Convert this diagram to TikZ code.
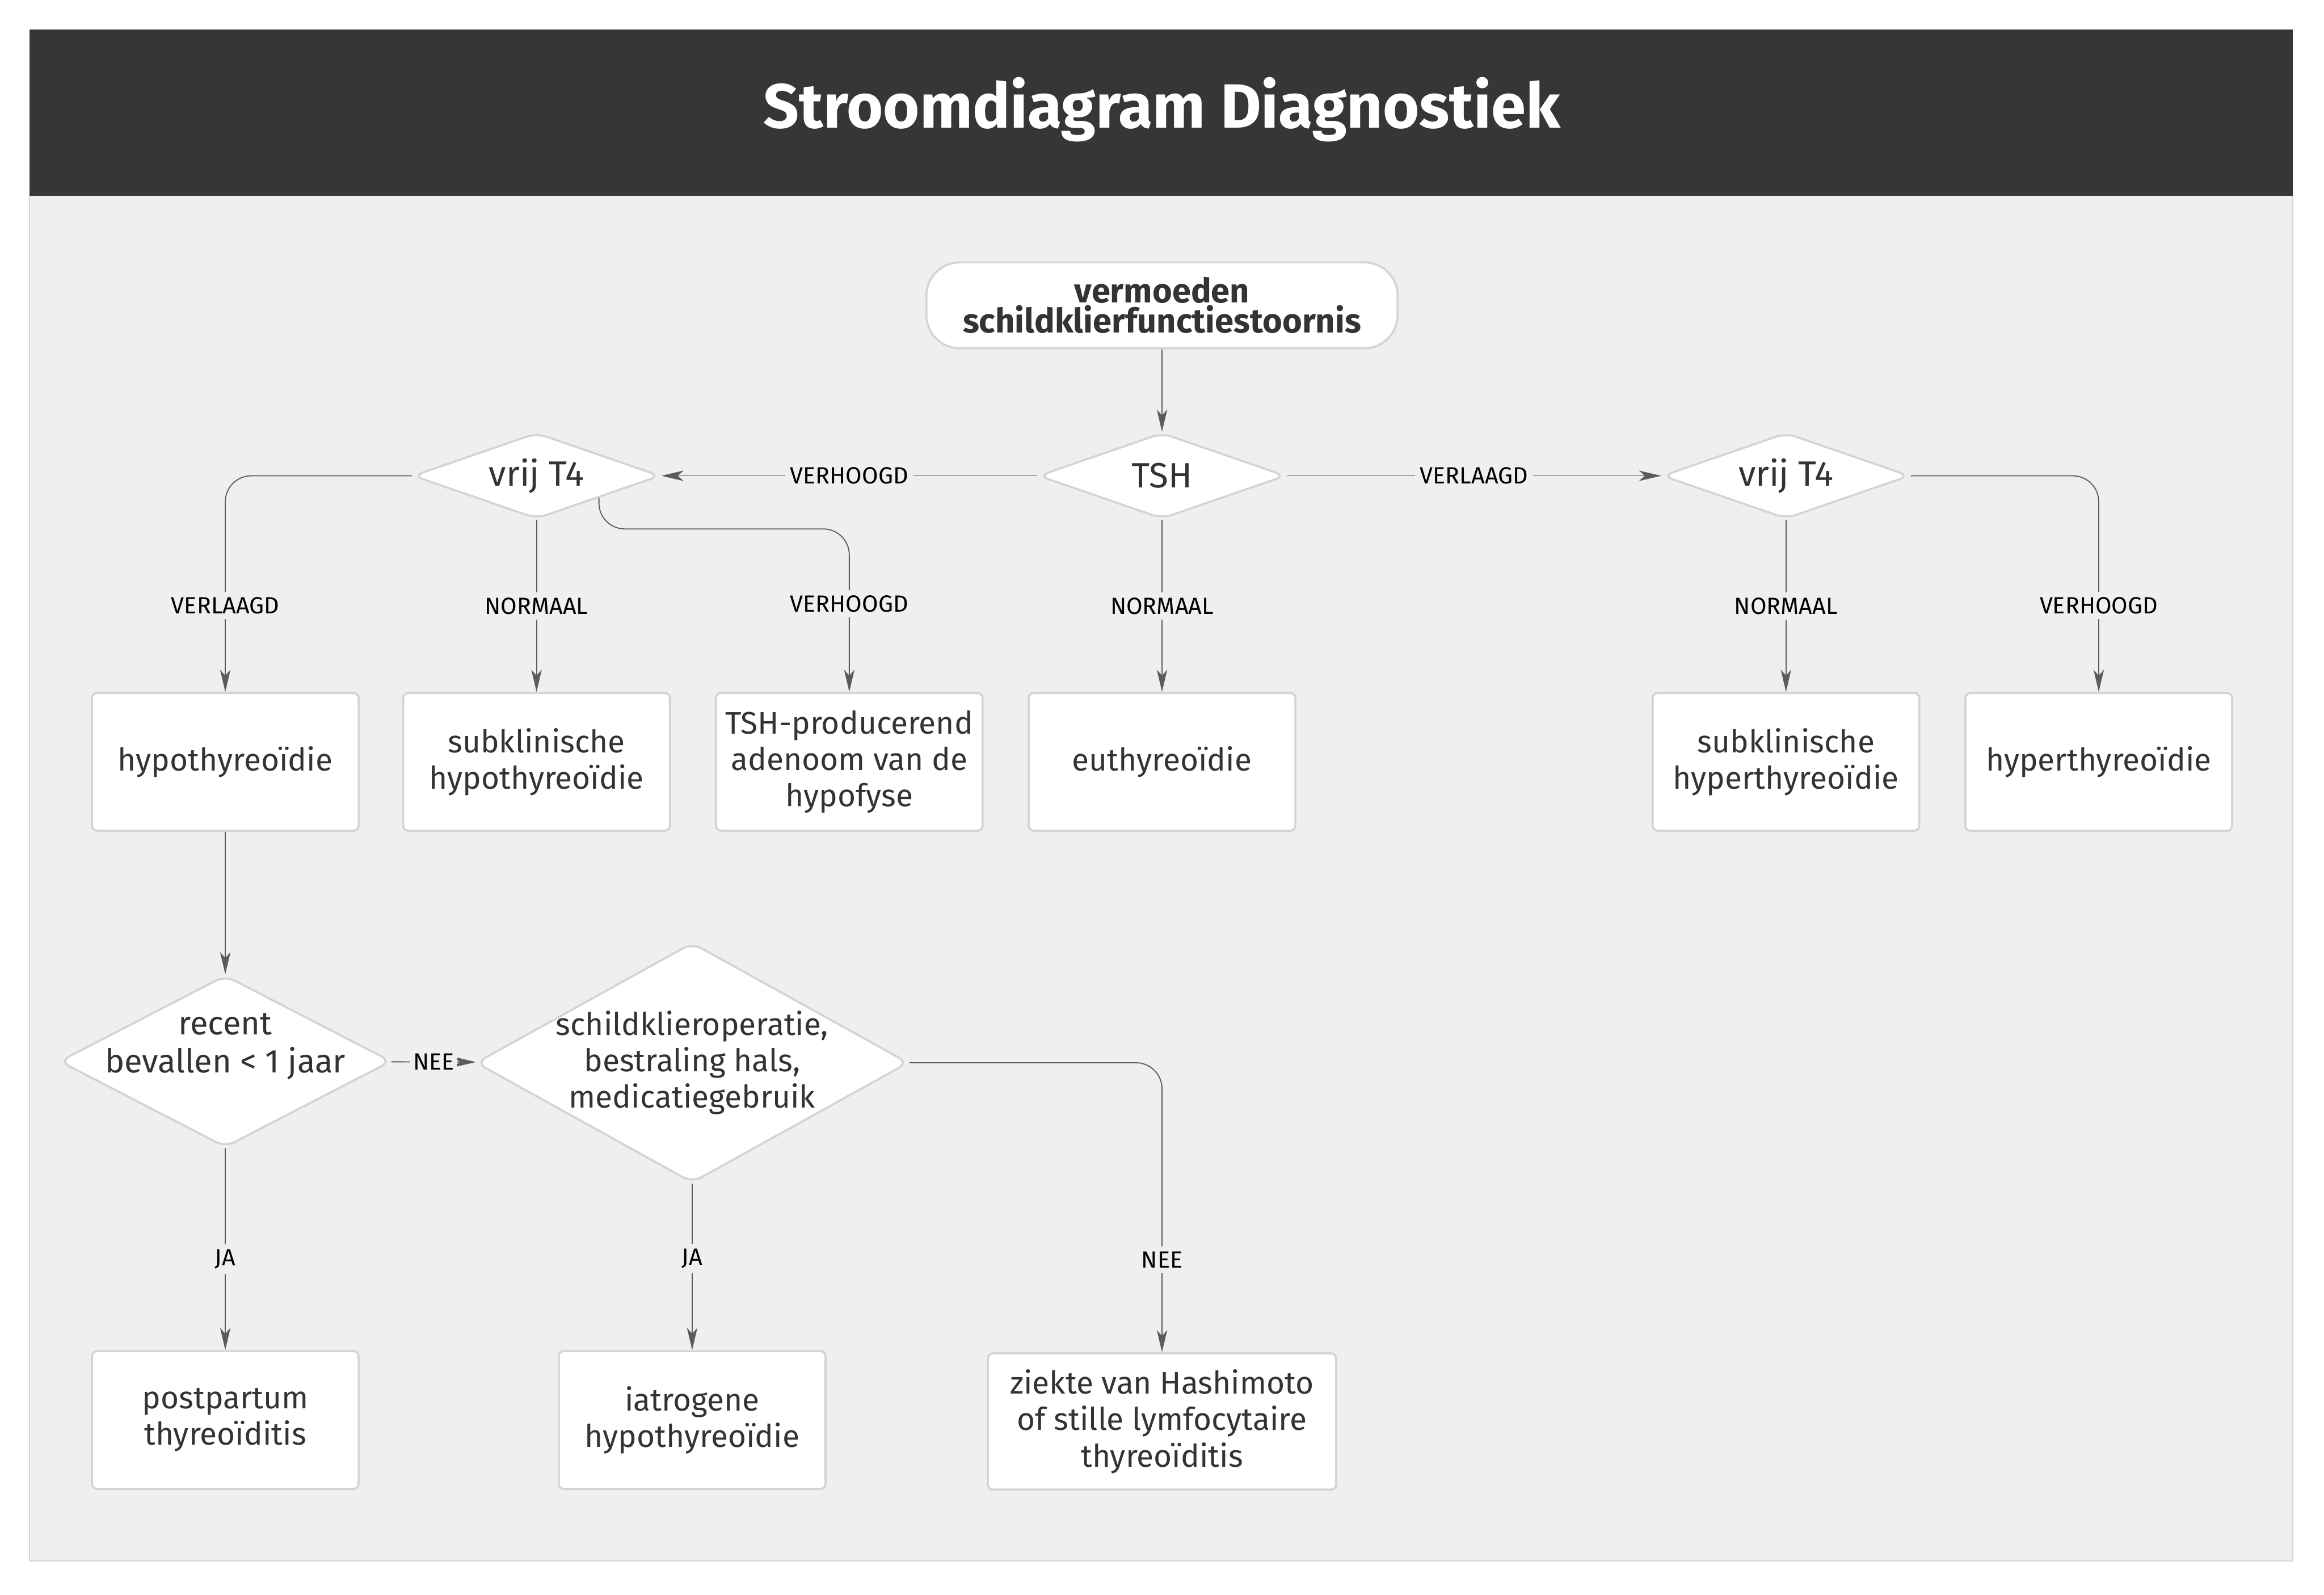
\documentclass[tikz,border=0pt]{standalone}
\usepackage{fontspec}
\setmainfont{Fira Sans}
\usetikzlibrary{arrows.meta, positioning, shapes.geometric}
\definecolor{titlebar}{RGB}{54, 54, 54}
\definecolor{canvas}{RGB}{240, 239, 240}
\definecolor{edge}{RGB}{95, 90, 94}
\definecolor{rim}{RGB}{212, 212, 212}
\definecolor{ink}{RGB}{51, 51, 51}

\begin{document}
\begin{tikzpicture}[
      x=0.02cm, y=-0.02cm,
      every node/.style={font=\fontsize{12}{14}\selectfont, text=ink},
      box/.style={rectangle, draw=rim, line width=0.8pt, fill=white,
                  rounded corners=2pt, minimum width=3.6cm, minimum height=1.86cm,
                  align=center, inner sep=2pt},
      start/.style={box, rounded corners=0.45cm, minimum width=6.36cm,
                    minimum height=1.16cm, font=\bfseries\fontsize{13}{11.5}\selectfont},
      decision/.style={diamond, draw=rim, line width=0.8pt, fill=white,
                       rounded corners=4pt, inner sep=0pt},
      smalldec/.style={decision, minimum width=3.34cm, minimum height=1.16cm},
      dlabel/.style={align=center, inner sep=0pt},
      biglabel/.style={dlabel, font=\fontsize{13.5}{15}\selectfont},
      elabel/.style={fill=canvas, text=black, font=\fontsize{9}{10}\selectfont, inner sep=2pt},
      arrow/.style={-{Stealth[length=0.3cm, width=0.14cm, inset=0.08cm]}, draw=edge, line width=0.4pt},
      elbow/.style={arrow, rounded corners=0.35cm}
    ]
    \useasboundingbox (0,0) rectangle (1568,1076);
    \fill[white] (0,0) rectangle (1568,1076);
    \draw[fill=canvas, draw=rim] (20,132) rectangle (1547,1053);
    \fill[titlebar] (20,20) rectangle (1547,132);
    \node[font=\bfseries\fontsize{24}{28}\selectfont, text=white] (title) at (784,74)
          {Stroomdiagram Diagnostiek};

    % eerste stap
    \node[start] (start) at (784,206) {vermoeden\\schildklierfunctiestoornis};
    \node[smalldec, label={[biglabel]center:TSH}] (tsh) at (784,321) {};
    \node[smalldec, label={[biglabel]center:vrij T4}] (t4l) at (362,321) {};
    \node[smalldec, label={[biglabel]center:vrij T4}] (t4r) at (1205,321) {};

    % uitkomsten
    \node[box] (hypo) at (152,514) {hypothyreoïdie};
    \node[box] (subhypo) at (362,514) {subklinische\\hypothyreoïdie};
    \node[box] (adenoom) at (573,514) {TSH-producerend\\adenoom van de\\hypofyse};
    \node[box] (euthyr) at (784,514) {euthyreoïdie};
    \node[box] (subhyper) at (1205,514) {subklinische\\hyperthyreoïdie};
    \node[box] (hyper) at (1416,514) {hyperthyreoïdie};

    % oorzaak hypothyreoïdie
    \node[decision, minimum width=4.48cm, minimum height=2.32cm,
          label={[dlabel, yshift=0.2cm, font=\fontsize{12.6}{14.5}\selectfont]center:recent\\bevallen < 1 jaar}] (recent) at (152,716) {};
    \node[decision, minimum width=5.84cm, minimum height=3.24cm,
          label={[dlabel]center:schildklieroperatie,\\bestraling hals,\\medicatiegebruik}] (oper) at (467,717) {};
    \node[box] (postpartum) at (152,958) {postpartum\\thyreoïditis};
    \node[box] (iatrogeen) at (467,958) {iatrogene\\hypothyreoïdie};
    \node[box, minimum width=4.7cm, minimum height=1.84cm] (hashimoto) at (784,959)
          {ziekte van Hashimoto\\of stille lymfocytaire\\thyreoïditis};

    \draw[arrow] (start) -- (tsh);
    \draw[arrow] (tsh) -- node[elabel] {VERHOOGD} (t4l);
    \draw[arrow] (tsh) -- node[elabel] {VERLAAGD} (t4r);
    \draw[arrow] (tsh) -- node[elabel] {NORMAAL} (euthyr);
    \draw[elbow] (t4l.west) -| node[elabel, pos=0.8] {VERLAAGD} (hypo.north);
    \draw[arrow] (t4l) -- node[elabel] {NORMAAL} (subhypo);
    \draw[elbow] (t4l.south east) -- ++(0,21) -| node[elabel, pos=0.73] {VERHOOGD} (adenoom.north);
    \draw[arrow] (t4r) -- node[elabel] {NORMAAL} (subhyper);
    \draw[elbow] (t4r.east) -| node[elabel, pos=0.8] {VERHOOGD} (hyper.north);
    \draw[arrow] (hypo) -- (recent);
    \draw[arrow] (recent) -- node[elabel, inner sep=1pt] {NEE} (oper);
    \draw[arrow] (recent) -- node[elabel, pos=0.55] {JA} (postpartum);
    \draw[arrow] (oper) -- node[elabel, pos=0.45] {JA} (iatrogeen);
    \draw[elbow] (oper.east) -| node[elabel, pos=0.84] {NEE} (hashimoto.north);
  \end{tikzpicture}
\end{document}
